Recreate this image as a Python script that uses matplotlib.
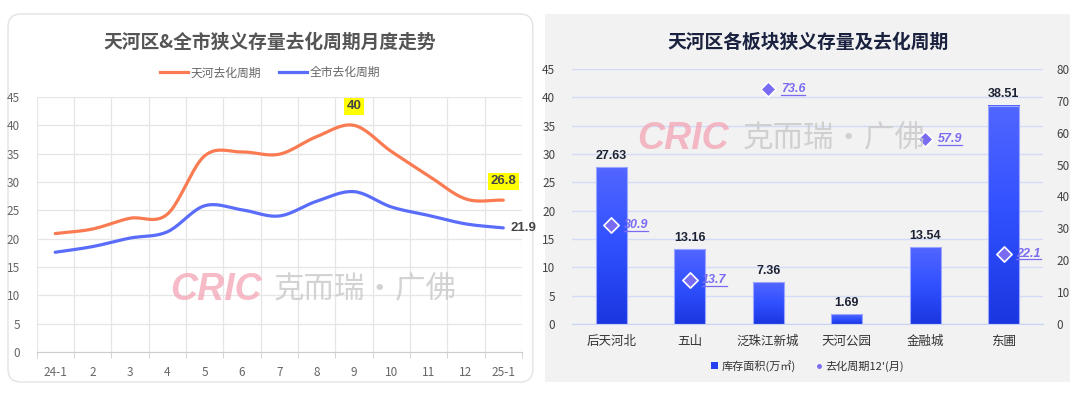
import numpy as np
import matplotlib
matplotlib.use('Agg')
from matplotlib import pyplot as plt
from matplotlib.patches import FancyBboxPatch, Rectangle, Patch
from matplotlib.lines import Line2D
from matplotlib.colors import LinearSegmentedColormap

plt.rcParams['font.family'] = ['Noto Sans CJK SC', 'DejaVu Sans']

# 左图: 月度去化周期
months = ['24-1', '2', '3', '4', '5', '6', '7', '8', '9', '10', '11', '12', '25-1']
tianhe = [20.9, 21.7, 23.6, 24.3, 34.6, 35.3, 34.9, 38.0, 40.0, 35.4, 31.1, 27.0, 26.8]
city = [17.6, 18.6, 20.1, 21.2, 25.8, 25.1, 24.0, 26.6, 28.3, 25.6, 24.1, 22.6, 21.9]

# 右图: 各板块存量及去化周期
blocks = ['后天河北', '五山', '泛珠江新城', '天河公园', '金融城', '东圃']
stock = [27.63, 13.16, 7.36, 1.69, 13.54, 38.51]
cycle = [30.9, 13.7, 73.6, np.nan, 57.9, 22.1]

ORANGE = '#fa7b52'
BLUE = '#5a6cfa'
PURPLE = '#7a6cf2'
NUM = ['Liberation Sans', 'DejaVu Sans']


def smooth(x, y, n=20):
    # catmull-rom curve through the points, only for drawing
    x = np.asarray(x, float)
    y = np.asarray(y, float)
    px = np.concatenate([[2 * x[0] - x[1]], x, [2 * x[-1] - x[-2]]])
    py = np.concatenate([[2 * y[0] - y[1]], y, [2 * y[-1] - y[-2]]])
    xs, ys = [], []
    t = np.linspace(0, 1, n, endpoint=False)
    for i in range(1, len(px) - 2):
        for arr, out in ((px, xs), (py, ys)):
            p0, p1, p2, p3 = arr[i - 1], arr[i], arr[i + 1], arr[i + 2]
            out.extend(0.5 * ((2 * p1) + (-p0 + p2) * t + (2 * p0 - 5 * p1 + 4 * p2 - p3) * t ** 2
                              + (-p0 + 3 * p1 - 3 * p2 + p3) * t ** 3))
    xs.append(x[-1])
    ys.append(y[-1])
    return np.array(xs), np.array(ys)


fig = plt.figure(figsize=(10.8, 3.94), dpi=100)
fig.patch.set_facecolor('white')

# panel backgrounds
fig.patches.append(FancyBboxPatch((0.0074, 0.0305), 0.486, 0.934, boxstyle='round,pad=0,rounding_size=0.012',
                                  transform=fig.transFigure, facecolor='white', edgecolor='#e3e3e3',
                                  linewidth=1, zorder=-2, mutation_aspect=2.74))
fig.patches.append(Rectangle((0.5046, 0.0305), 0.486, 0.934, transform=fig.transFigure,
                             facecolor='#f2f2f2', edgecolor='none', zorder=-2))

# ---------- left chart ----------
ax1 = fig.add_axes([0.0338, 0.1066, 0.4495, 0.6472])
ax1.set_facecolor('none')
x = np.arange(len(months))
sx, sy = smooth(x, tianhe)
ax1.plot(sx, sy, color=ORANGE, linewidth=2.3, solid_capstyle='round', zorder=3)
sx, sy = smooth(x, city)
ax1.plot(sx, sy, color=BLUE, linewidth=2.3, solid_capstyle='round', zorder=3)

ax1.set_xlim(-0.5, len(months) - 0.5)
ax1.set_ylim(0, 45)
ax1.set_yticks(range(0, 46, 5))
ax1.set_xticks(x)
ax1.set_xticklabels(months)
ax1.set_xticks(np.arange(-0.5, len(months), 1), minor=True)
ax1.grid(True, which='major', axis='y', color='#e6e6e6', linewidth=0.9)
ax1.grid(True, which='minor', axis='x', color='#e6e6e6', linewidth=0.9)
ax1.tick_params(axis='x', which='major', length=0, pad=10, labelsize=8.5, labelcolor='#666666')
ax1.tick_params(axis='x', which='minor', length=4, color='#cccccc')
ax1.tick_params(axis='y', length=0, pad=12, labelsize=8.5, labelcolor='#666666')
for s in ['top', 'right', 'left']:
    ax1.spines[s].set_visible(False)
ax1.spines['bottom'].set_color('#cccccc')

ax1.text(8, tianhe[8] + 2.3, '40', ha='center', va='bottom', fontsize=9.5, fontweight='bold', color='#444444',
         family=NUM, bbox=dict(facecolor='#ffff00', edgecolor='none', pad=1.8), zorder=5)
ax1.text(12, tianhe[12] + 2.3, '26.8', ha='center', va='bottom', fontsize=9.5, fontweight='bold', color='#444444',
         family=NUM, bbox=dict(facecolor='#ffff00', edgecolor='none', pad=1.8), zorder=5)
ax1.annotate('21.9', (12, city[12]), xytext=(5, 0), textcoords='offset points', ha='left', va='center',
             fontsize=9.5, fontweight='bold', color='#444444', family=NUM, annotation_clip=False)

fig.text(0.25, 0.893, '天河区&全市狭义存量去化周期月度走势', ha='center', va='center', fontsize=13.5,
         fontweight='bold', color='#555555')
leg1 = fig.legend(handles=[Line2D([], [], color=ORANGE, linewidth=2.3), Line2D([], [], color=BLUE, linewidth=2.3)],
                  labels=['天河去化周期', '全市去化周期'], loc='center', bbox_to_anchor=(0.25, 0.815), ncol=2,
                  frameon=False, fontsize=8.5, handlelength=2.4, handletextpad=0.2, columnspacing=1.5)
for t in leg1.get_texts():
    t.set_color('#666666')

# watermark left
fig.text(0.158, 0.265, 'CRIC', fontsize=27, fontweight='bold', style='italic', family=NUM, color='#f4a4b4',
         alpha=0.75, ha='left', va='center', zorder=1)
fig.text(0.253, 0.265, '克而瑞·广佛', fontsize=22, color='#c8c8c8', alpha=0.8,
         ha='left', va='center', zorder=1)

# ---------- right chart ----------
ax2 = fig.add_axes([0.5296, 0.1777, 0.4361, 0.6472])
ax2.set_facecolor('none')
xb = np.arange(len(blocks))
ax2.grid(True, axis='y', color='#d3dcf7', linewidth=1)
ax2.set_axisbelow(True)
bars = ax2.bar(xb, stock, width=0.4, color='none', edgecolor='#9aa6ff', linewidth=0.8, zorder=3)
grad = np.linspace(0, 1, 256).reshape(-1, 1)
cmap = LinearSegmentedColormap.from_list('bar', ['#1a36e0', '#3050ff', '#5266ff'])
for b in bars:
    x0, w, h = b.get_x(), b.get_width(), b.get_height()
    ax2.imshow(grad, cmap=cmap, extent=[x0, x0 + w, 0, h], origin='lower', aspect='auto', zorder=2)
    ax2.text(x0 + w / 2, h + 1.0, f'{h:.2f}', ha='center', va='bottom', fontsize=9, fontweight='bold',
             color='#1c2233', family=NUM, zorder=4)
ax2.set_xlim(-0.5, len(blocks) - 0.5)
ax2.set_ylim(0, 45)
ax2.set_yticks(range(0, 46, 5))
ax2.set_xticks(xb)
ax2.set_xticklabels(blocks)
ax2.tick_params(axis='x', length=0, pad=8, labelsize=9, labelcolor='#333333')
ax2.tick_params(axis='y', length=0, pad=12, labelsize=8.5, labelcolor='#444444')
for s in ['top', 'right', 'left']:
    ax2.spines[s].set_visible(False)
ax2.spines['bottom'].set_color('#c9d3f5')

ax3 = ax2.twinx()
ax3.set_ylim(0, 80)
ax3.set_yticks(range(0, 81, 10))
ax3.tick_params(axis='y', length=0, pad=10, labelsize=8.5, labelcolor='#444444')
for s in ax3.spines.values():
    s.set_visible(False)
ax3.scatter(xb, cycle, marker='D', s=60, color=PURPLE, edgecolor='white', linewidth=1.2, zorder=5)
labels = []
for xi, v in zip(xb, cycle):
    if np.isnan(v):
        continue
    t = ax3.annotate(f'{v:.1f}', (xi, v), xytext=(9, 0), textcoords='offset points', ha='left', va='center',
                     fontsize=9, fontweight='bold', style='italic', family=NUM, color=PURPLE, zorder=6)
    labels.append(t)

fig.text(0.748, 0.893, '天河区各板块狭义存量及去化周期', ha='center', va='center', fontsize=13.5,
         fontweight='bold', color='#1a2240')
leg2 = fig.legend(handles=[Patch(facecolor='#2442f0', edgecolor='none'),
                           Line2D([], [], marker='o', color='none', markerfacecolor=PURPLE,
                                  markeredgecolor=PURPLE, markersize=2.5)],
                  labels=['库存面积(万㎡)', "去化周期12'(月)"], loc='center', bbox_to_anchor=(0.748, 0.071),
                  ncol=2, frameon=False, fontsize=8, handlelength=0.6, handleheight=0.6, handletextpad=0.3,
                  columnspacing=1.8)
for t in leg2.get_texts():
    t.set_color('#333333')

# watermark right
fig.text(0.59, 0.647, 'CRIC', fontsize=27, fontweight='bold', style='italic', family=NUM, color='#f4a4b4',
         alpha=0.75, ha='left', va='center', zorder=1)
fig.text(0.688, 0.647, '克而瑞·广佛', fontsize=22, color='#c8c8c8', alpha=0.8,
         ha='left', va='center', zorder=1)

# underline the cycle labels
fig.canvas.draw()
r = fig.canvas.get_renderer()
for t in labels:
    bb = t.get_window_extent(r).transformed(fig.transFigure.inverted())
    fig.add_artist(Line2D([bb.x0, bb.x1], [bb.y0 + 0.002, bb.y0 + 0.002], color=PURPLE, linewidth=0.9,
                          transform=fig.transFigure, zorder=6))

fig.savefig('out.png', dpi=100, facecolor=fig.get_facecolor())
